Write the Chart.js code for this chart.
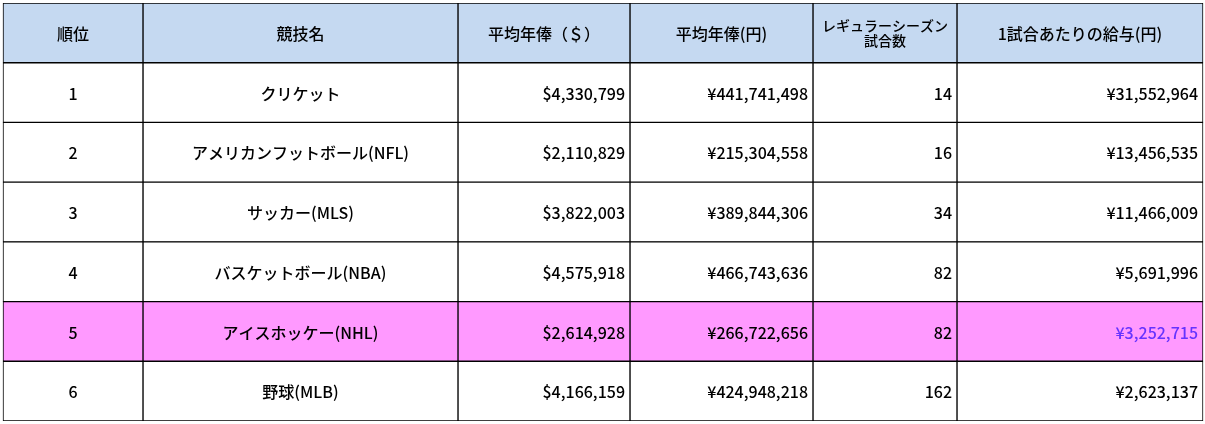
<!DOCTYPE html>
<html><head><meta charset="utf-8">
<script src="https://cdn.jsdelivr.net/npm/chart.js@4"></script>
<style>html,body{margin:0;padding:0;background:#fff}#wrap{width:1205px;height:424px}</style>
</head><body><div id="wrap"><canvas id="c"></canvas></div>
<script>
const headers = ['順位','競技名','平均年俸（＄）','平均年俸(円)','レギュラーシーズン\n試合数','1試合あたりの給与(円)'];
const ranks = ['1','2','3','4','5','6'];
const sports = ['クリケット','アメリカンフットボール(NFL)','サッカー(MLS)','バスケットボール(NBA)','アイスホッケー(NHL)','野球(MLB)'];
const salaryUSD = ['$4,330,799','$2,110,829','$3,822,003','$4,575,918','$2,614,928','$4,166,159'];
const salaryJPY = ['¥441,741,498','¥215,304,558','¥389,844,306','¥466,743,636','¥266,722,656','¥424,948,218'];
const games = ['14','16','34','82','82','162'];
const perGame = ['¥31,552,964','¥13,456,535','¥11,466,009','¥5,691,996','¥3,252,715','¥2,623,137'];
const highlightRow = 4;

const colEdges = [3,143,458,630,813,957,1203];
const colAlign = ['center','center','right','right','right','right'];
const columns = [ranks, sports, salaryUSD, salaryJPY, games, perGame];
const rowLabels = ['h', ...ranks];
const rowColor = r => r===0 ? '#c5d9f1' : (r-1===highlightRow ? '#ff99ff' : '#ffffff');

const datasets = columns.map((col,ci)=>({
  data: rowLabels.map(()=>[colEdges[ci], colEdges[ci+1]]),
  backgroundColor: rowLabels.map((_,r)=>rowColor(r)),
  borderColor:'#000', borderWidth:1, borderSkipped:false,
  barPercentage:1, categoryPercentage:1
}));

const textPlugin = {
  id:'cells',
  afterDatasetsDraw(chart){
    const ctx = chart.ctx;
    ctx.save();
    ctx.textBaseline='middle';
    chart.data.datasets.forEach((ds,ci)=>{
      const meta = chart.getDatasetMeta(ci);
      meta.data.forEach((el,r)=>{
        const {x,base,y} = el.getProps(['x','base','y'],true);
        const left=Math.min(x,base), right=Math.max(x,base);
        let txt, align;
        if(r===0){ txt=headers[ci]; align='center'; }
        else { txt=columns[ci][r-1]; align=colAlign[ci]; }
        const hl = r-1===highlightRow;
        ctx.fillStyle = (hl && ci===5) ? '#6633ff' : '#000';
        ctx.textAlign = align;
        const tx = align==='center' ? (left+right)/2 : right-5;
        const lines = txt.split('\n');
        if(lines.length>1){
          ctx.font = '500 14px "Noto Sans CJK JP", sans-serif';
          lines.forEach((l,i)=>ctx.fillText(l, tx, y+(i-0.5)*15));
        } else {
          ctx.font = '500 16px "Noto Sans CJK JP", "Liberation Sans", sans-serif';
          ctx.fillText(txt, tx, y+1);
        }
      });
    });
    ctx.restore();
  }
};

new Chart(document.getElementById('c'),{
  type:'bar',
  data:{labels:rowLabels, datasets},
  options:{
    indexAxis:'y', responsive:true, maintainAspectRatio:false, animation:false,
    layout:{padding:{left:0,right:0,top:3,bottom:3}},
    plugins:{legend:{display:false},tooltip:{enabled:false}},
    scales:{
      x:{type:'linear',min:0,max:1205,display:false},
      y:{type:'category',display:false,grid:{display:false}}
    },
    grouped:false
  },
  plugins:[textPlugin]
});
</script></body></html>
